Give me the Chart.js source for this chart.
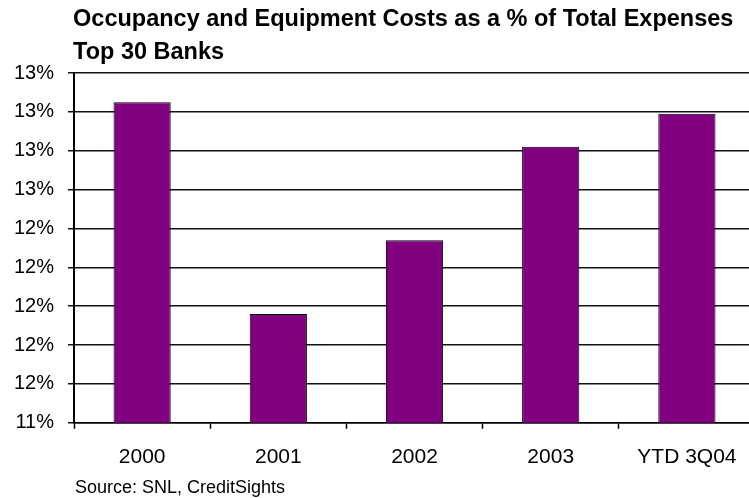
<!DOCTYPE html>
<html>
<head>
<meta charset="utf-8">
<title>Occupancy and Equipment Costs</title>
<script src="https://cdn.jsdelivr.net/npm/chart.js"></script>
<style>
  html, body { margin: 0; padding: 0; background: #fff; overflow: hidden; }
  #wrap { width: 749px; height: 498px; overflow: hidden; }
</style>
</head>
<body>
<div id="wrap"><canvas id="costChart" width="755" height="498"></canvas></div>
<script>
// occupancy & equipment costs, % of total expenses
const years = ['2000', '2001', '2002', '2003', 'YTD 3Q04'];
const costPct = [13.05, 11.96, 12.34, 12.82, 12.99];

// axis runs 11.4 -> 13.2 in 0.2 steps, labels rounded to whole percent
const yTickValues = [11.4, 11.6, 11.8, 12.0, 12.2, 12.4, 12.6, 12.8, 13.0, 13.2];
const yTickLabels = ['11%', '12%', '12%', '12%', '12%', '12%', '13%', '13%', '13%', '13%'];

const titleLines = ['Occupancy and Equipment Costs as a % of Total Expenses', 'Top 30 Banks'];
const sourceNote = 'Source: SNL, CreditSights';

const FONT = '"Liberation Sans", Arial, sans-serif';

// title above the plot and source line under the axis
const notes = {
    id: 'notes',
    afterDraw(chart) {
        const ctx = chart.ctx;
        const left = chart.chartArea.left;
        ctx.save();
        ctx.fillStyle = '#000';
        ctx.textBaseline = 'alphabetic';
        ctx.textAlign = 'left';
        ctx.font = 'bold 23.5px ' + FONT;
        ctx.fillText(titleLines[0], left - 1, 26);
        ctx.fillText(titleLines[1], left - 1, 59);
        ctx.font = '18px ' + FONT;
        ctx.fillText(sourceNote, left + 1, 493);
        ctx.restore();
    }
};

const ctx = document.getElementById('costChart').getContext('2d');
const costChart = new Chart(ctx, {
    type: 'bar',
    data: {
        labels: years,
        datasets: [{
            data: costPct,
            backgroundColor: '#800080',
            borderColor: '#000',
            borderWidth: 1,
            categoryPercentage: 1,
            barPercentage: 0.42
        }]
    },
    options: {
        responsive: false,
        animation: false,
        layout: { padding: { left: 0, top: 73, right: 0, bottom: 12 } },
        plugins: {
            legend: { display: false },
            tooltip: { enabled: false }
        },
        scales: {
            x: {
                grid: {
                    offset: true,
                    drawOnChartArea: false,
                    color: '#000',
                    tickLength: 6,
                    tickWidth: 1.5
                },
                border: { color: '#000', width: 1.5 },
                ticks: {
                    color: '#000',
                    padding: 16,
                    font: { family: FONT, size: 21 }
                }
            },
            y: {
                min: 11.4,
                max: 13.2,
                afterBuildTicks: axis => {
                    axis.ticks = yTickValues.map(v => ({ value: v }));
                },
                grid: {
                    color: '#111',
                    lineWidth: 1.5,
                    tickLength: 6
                },
                border: { color: '#000', width: 2 },
                ticks: {
                    color: '#000',
                    padding: 14,
                    font: { family: FONT, size: 20 },
                    callback: (value, i) => yTickLabels[i]
                }
            }
        }
    },
    plugins: [notes]
});
</script>
</body>
</html>
